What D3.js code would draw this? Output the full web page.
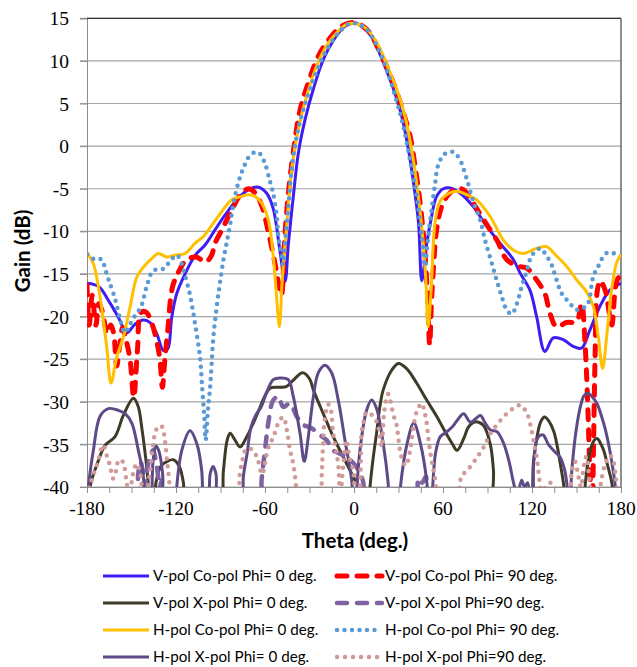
<!DOCTYPE html>
<html>
<head>
<meta charset="utf-8">
<title>Gain vs Theta</title>
<script src="https://d3js.org/d3.v7.min.js"></script>
<style>
  body { margin: 0; background: #fff; }
  .tick-lbl { font-family: "Liberation Serif", "Times New Roman", serif; font-size: 19.5px; fill: #000; }
  .ax-title { font-family: Lato, "Liberation Sans", sans-serif; font-weight: bold; font-size: 20.5px; fill: #000; }
  .leg { font-family: Lato, "Liberation Sans", sans-serif; font-size: 15.2px; fill: #000; }
</style>
</head>
<body>
<svg id="chart" width="637" height="667"></svg>
<script>
// ---- data (theta deg, gain dB); values < -40 are off the chart
var vCo0 = [[-180,-16.1],[-172,-16.5],[-165.6,-18.1],[-158.8,-20.1],[-153.2,-21.9],[-147.6,-20.9],[-142,-20.4],[-137.5,-20.7],[-133,-22],[-128.5,-24],[-125.6,-23.8],[-122.9,-20.1],[-119.5,-17.3],[-113.9,-15],[-107,-12.8],[-100.4,-11.6],[-93.6,-9.8],[-87,-8.1],[-78,-6.1],[-71,-5.1],[-65,-4.8],[-59,-5.5],[-54.5,-7.3],[-50,-12.2],[-46.5,-15.9],[-44.2,-11.4],[-40.9,-5.9],[-37.5,-0.8],[-33,3.1],[-27.4,6.7],[-20.6,10.2],[-13.9,12.4],[-7.2,13.9],[0,14.5],[6.3,13.9],[13.1,12.5],[19.8,9.8],[26.6,6.7],[32.2,3.5],[36.7,-0.4],[40.1,-4.3],[43.5,-9],[45.7,-15.8],[49,-11.5],[51.5,-9],[55.7,-5.9],[60.2,-5],[64.7,-4.9],[71.4,-5.5],[80.4,-7.1],[89.4,-9.4],[98.4,-11.4],[107.4,-13.3],[112,-14.9],[118.6,-16.9],[123.1,-20],[128.7,-24.1],[134.3,-22.5],[141,-22.7],[147.8,-23.5],[153.4,-23.7],[159,-21.6],[165.8,-18.8],[172.5,-16.9],[180,-16.1]];

var vCo90 = [[-180,-16.3],[-178.5,-21],[-176.5,-17.5],[-174,-21],[-172,-18.5],[-169.5,-19.5],[-166.5,-22],[-164,-21],[-162,-22],[-160,-25.8],[-158,-23.5],[-156,-21.3],[-154,-22.5],[-151,-25],[-148.5,-29.5],[-146,-24],[-143.5,-19.5],[-140,-19.5],[-137,-20.5],[-134.5,-21.8],[-131,-24.8],[-129.2,-28.3],[-127.5,-25],[-125.5,-21.5],[-122.3,-16.5],[-117.8,-14.6],[-113.3,-13.4],[-106.5,-13],[-100,-13.6],[-96,-12.8],[-93.7,-11.4],[-89,-9.8],[-82.4,-7.5],[-75.7,-5.5],[-71,-5],[-66.6,-5.5],[-62,-7.1],[-57.6,-10.2],[-53,-14],[-49,-17.5],[-46.8,-11],[-44.5,-6],[-41,-0.8],[-36.3,4.3],[-30.7,7.5],[-23.9,10.6],[-16.1,12.7],[-8.2,14.1],[0,14.5],[8.6,13.7],[17.6,11],[26.6,7.4],[33.3,3.9],[37.8,1.2],[41.2,-2.4],[44.6,-6.7],[47.3,-11.4],[49.5,-17.3],[51,-23.3],[52.3,-18],[53.5,-14.5],[55.7,-9.8],[59.1,-7.1],[63.6,-5.7],[69.2,-5],[73.7,-5.1],[80.4,-6.7],[87.2,-8.6],[96.2,-11],[102.9,-13.3],[110.8,-14.1],[116.4,-14.3],[123.1,-15.7],[128.7,-17.3],[132.1,-19.6],[136.6,-21.2],[143.3,-20.7],[150,-20.6],[153.4,-18.5],[155.7,-23],[157.5,-30],[159,-38],[160.5,-43],[161.5,-35],[162.5,-25],[164,-17],[166,-15.8],[169.5,-17],[172,-19.5],[173.8,-21],[176,-17],[178,-15.5],[180,-15.3]];

var vX0 = [[-180,-45],[-178,-40],[-172.3,-36.9],[-167.8,-35.1],[-161.1,-34.1],[-155.5,-31.6],[-148.7,-29.6],[-145.4,-30.6],[-143.1,-33],[-140.5,-36.5],[-138.5,-40],[-137,-45],[-135,-45],[-133.5,-39.5],[-130,-37.5],[-126,-37],[-121.8,-36.8],[-118,-37.5],[-115,-39.5],[-113,-45],[-92,-45],[-88,-38],[-85.5,-34.5],[-83.5,-33.7],[-80.2,-34.5],[-76.8,-35.3],[-72.3,-34.1],[-67.9,-32.5],[-63,-30.5],[-60,-29.3],[-56.6,-28.4],[-50,-28.3],[-45.4,-28.2],[-40,-27.3],[-34.6,-26.6],[-30,-27.3],[-27.4,-28.6],[-20.7,-31.4],[-14,-34.1],[-7.2,-36.5],[-0.5,-38.8],[4,-40.5],[7,-45],[9,-45],[10.8,-40],[13,-36.5],[15.2,-33.7],[17.5,-30.5],[19.7,-28.6],[25.4,-26.3],[29.9,-25.5],[35.5,-26.1],[42.2,-27.8],[49,-29.8],[55.7,-31.7],[62.7,-33.9],[66.5,-35],[69.5,-35.7],[74,-34.3],[77,-33],[80.7,-32.4],[84,-32.4],[87.4,-32.8],[91.9,-35],[94,-38],[96,-45],[117,-45],[121,-37],[123.4,-34.1],[126,-32.3],[128.5,-31.8],[131.5,-32.3],[134.7,-33.5],[137,-35.2],[139.1,-37.3],[141.5,-40],[143,-45],[154,-45],[156,-39.5],[159.3,-35.7],[162,-34.5],[164,-34.3],[166,-34.8],[168.3,-35.7],[171,-37.5],[173.9,-39.6],[176,-45],[180,-45]];

var vX90 = [[-180,-45],[-148,-45],[-145.5,-38.5],[-144,-37],[-142.5,-38],[-141,-40],[-139.5,-38],[-137.5,-36.5],[-135.5,-35.7],[-133.5,-37],[-132,-38.8],[-131,-40],[-129.5,-39.2],[-128,-45],[-64,-45],[-62.3,-39.2],[-60,-35.7],[-57.8,-32.5],[-54.4,-29.8],[-51,-29.4],[-47.7,-30.6],[-43.2,-30.2],[-38.7,-31.7],[-34.2,-32.7],[-28.6,-33.1],[-23,-33.9],[-18.5,-34.5],[-14,-35.7],[-9.5,-36.1],[-5,-36.5],[0.6,-37.4],[4,-38.4],[6.3,-39.5],[8,-45],[40,-45],[43.5,-39],[46,-39.5],[48.5,-38.8],[51,-45],[180,-45]];

var hCo0 = [[-180,-12.5],[-175.7,-13.8],[-171.2,-17.7],[-166.7,-23.6],[-163.8,-27.8],[-160,-24.8],[-155.5,-22.4],[-151,-18.9],[-146.5,-15.4],[-142,-14.2],[-136.4,-13.2],[-131.9,-12.6],[-126.3,-13],[-120.7,-12.8],[-113.9,-12.6],[-107.2,-11.4],[-101.5,-10.6],[-95.9,-9.3],[-89.2,-7.7],[-82.4,-6.3],[-75.7,-5.9],[-71.2,-5.7],[-66.7,-5.9],[-62.2,-6.7],[-57.7,-8.7],[-54.4,-13],[-52.5,-17],[-50.3,-21.2],[-48.5,-16],[-47,-12.5],[-45.4,-9.4],[-42,-2.7],[-37.5,2],[-31.9,5.9],[-25.2,9.4],[-18.4,11.8],[-11.7,13.3],[-5,14.3],[0.7,14.4],[7.4,13.9],[15.3,12.2],[22,9.6],[28.7,6.7],[34.4,3.5],[38.9,-0.4],[42.2,-4.3],[45.6,-9.4],[48.3,-15.3],[50,-21.2],[52,-16.9],[54.6,-9],[57.9,-6.5],[62.4,-5.7],[69.2,-5.3],[75.9,-5.7],[82.7,-6.3],[91.6,-8.2],[100.6,-11],[107.4,-12.2],[114.1,-12.6],[123.1,-12],[129.8,-11.8],[136.6,-12.9],[143.3,-14.1],[150.1,-15.7],[156.8,-17.1],[161.3,-18.8],[164.7,-22.4],[167.6,-26.1],[170.3,-22.4],[173.6,-16.9],[177,-13.7],[180,-12.7]];

var hCo90 = [[-180,-12.7],[-174.6,-13.3],[-170.1,-13.3],[-167.8,-14.4],[-165.6,-15.6],[-161.1,-17.9],[-157.7,-20.3],[-154.4,-21.9],[-151,-20.9],[-147.6,-19.9],[-143.5,-18.8],[-139.8,-16.5],[-135.3,-14.6],[-128.5,-14.4],[-124,-13.5],[-119.5,-12.8],[-116.2,-13.8],[-113.9,-15.2],[-110.5,-17.5],[-107.1,-20.9],[-103.8,-24.8],[-102.3,-28.5],[-101,-31.5],[-100,-34.5],[-98.5,-31],[-97.1,-28.5],[-96,-25.6],[-94.8,-22.4],[-92.6,-18.9],[-90.4,-16.1],[-88.1,-13.4],[-85.9,-11.4],[-83.6,-9.3],[-81.4,-6.9],[-78,-4.3],[-74.6,-2.6],[-70.2,-1.1],[-66,-0.7],[-63.4,-0.9],[-60.1,-2],[-56.7,-4.1],[-54.4,-5.6],[-52.1,-8.2],[-51,-10.6],[-48.7,-12.9],[-47.6,-13.9],[-46.5,-11.4],[-44.2,-7.1],[-42,-2.7],[-38.6,1.2],[-34.1,4.3],[-27.4,7.8],[-20.6,10.6],[-13.9,12.5],[-8.2,13.7],[-2.6,14.4],[3,14.3],[8.6,13.7],[15.3,11.8],[22,9],[27.7,5.9],[32.2,3.1],[35.6,0.4],[38.9,-2.7],[42.3,-5.9],[45.6,-10.6],[47.9,-14.1],[49.5,-11.5],[52.3,-7.5],[54.6,-4.5],[56.8,-2.2],[61.3,-0.9],[66.9,-0.7],[71.4,-1.6],[75.9,-3.8],[80.4,-6.5],[84.9,-8.6],[88.3,-11],[92.8,-13.7],[96.1,-15.7],[99.5,-17.6],[102.9,-19.2],[106.3,-19.7],[109.6,-18.6],[113,-16.5],[116.4,-14.7],[119.7,-12.9],[125.4,-12],[129.8,-12.9],[133.2,-13.9],[135.5,-15.1],[140,-17.3],[144.4,-18.2],[150.1,-19.2],[154.6,-19],[157.9,-18.4],[161.3,-15.3],[164.7,-14.1],[166.9,-13.3],[170.8,-12.5],[175.9,-12.6],[180,-12.7]];

var hX0 = [[-180,-45],[-179,-40],[-175.7,-35.7],[-171.2,-31.7],[-165.6,-30.8],[-158.8,-31],[-154.3,-31.4],[-149.8,-32.5],[-145.4,-35.7],[-142,-38.8],[-140,-45],[-138,-45],[-135.5,-37],[-133.5,-35.2],[-131.5,-35.8],[-129,-38.5],[-127.5,-45],[-121,-45],[-119.5,-40],[-116.1,-35.7],[-110.5,-33.4],[-106,-34.9],[-102.7,-38],[-100.4,-45],[-98.5,-45],[-97,-38.5],[-95,-37.6],[-93,-38.5],[-91,-45],[-76.5,-45],[-74.6,-38.8],[-72,-36],[-69.5,-33],[-66,-31.5],[-62.5,-30.6],[-58.9,-28.9],[-54.4,-27.4],[-49.9,-27.2],[-44.3,-27.4],[-40.9,-29.4],[-36.4,-33.7],[-33.5,-37],[-30.8,-34.1],[-27.4,-29.4],[-24.1,-26.6],[-19.6,-25.7],[-15.1,-26.6],[-10.6,-29.8],[-6.1,-34.5],[-1.6,-39.2],[0.5,-45],[2,-40],[4,-35.7],[8.5,-31],[11.9,-29.8],[15.2,-30.8],[19.7,-34.9],[23,-39.5],[25,-45],[29.5,-45],[31.3,-40],[35.8,-34.9],[40.3,-32.5],[44.8,-34.9],[49.2,-39.6],[51,-45],[53,-40],[55,-36],[58.2,-34.1],[62.7,-33.5],[66,-33],[69.5,-32.2],[73.9,-31.4],[78.5,-32.4],[82,-32],[85.2,-31.6],[88.5,-32.5],[91.9,-33.3],[96.4,-33.5],[100.9,-34.9],[104.5,-37],[107.7,-39.6],[110,-41],[113,-39.2],[115,-40],[117,-39.5],[119,-45],[121.5,-36.5],[124,-34.2],[127.5,-33.9],[131,-35],[135,-35.8],[139,-36.5],[142,-38],[144,-40.5],[145.5,-45],[146.5,-39],[148.1,-35.7],[150.5,-32.5],[152.6,-30.6],[155,-29.3],[157.5,-29],[160.5,-29.4],[163.8,-30.2],[166.5,-31.5],[169.5,-33.3],[172,-35.3],[174,-37.3],[176.2,-40],[177.5,-45],[180,-45]];

var hX90 = [[-180,-41],[-178,-39.8],[-174.6,-38],[-172.3,-36.9],[-170.5,-35.5],[-169,-35.1],[-166.7,-36.3],[-164.5,-37.5],[-162.5,-39],[-161,-38.5],[-159,-37],[-157,-36.8],[-155,-37.5],[-153.5,-39.2],[-152,-40.5],[-150,-39.5],[-148.7,-38.2],[-146.5,-37.3],[-144.5,-38],[-143,-40],[-141,-42],[-139,-40],[-137,-37.5],[-134.5,-34],[-132,-32.9],[-129.5,-32.9],[-127.5,-34.5],[-126,-37],[-124.5,-39.5],[-123,-44],[-81,-44],[-77,-38.5],[-74.7,-36.5],[-72.5,-35.5],[-68,-35.7],[-64.7,-36.9],[-62,-38.5],[-58,-35.5],[-54.3,-34.1],[-50.5,-32.3],[-47.6,-31.8],[-45.3,-33.3],[-43.1,-35.7],[-40.9,-37.3],[-39,-40],[-37,-44],[-23.5,-44],[-21.8,-38.8],[-21,-35.5],[-20,-32.5],[-18.5,-30.8],[-17.3,-30.3],[-15.5,-31],[-14.2,-33.5],[-12.9,-34.9],[-10.6,-37.4],[-9.3,-41],[-7,-37],[-5,-34.5],[-3.9,-35.7],[-2.7,-36.8],[-0.5,-38],[1,-40.5],[3,-41],[5.1,-33.7],[6.3,-32.5],[8.5,-31.2],[10.7,-31.4],[13,-31.7],[15.2,-32.3],[17.5,-33.9],[18.6,-35.3],[20.5,-31],[23,-29.1],[26.5,-31.5],[28.7,-32.7],[29.9,-34.3],[31,-35.7],[33,-37],[35,-37.5],[37.5,-36],[40,-33],[42.2,-31.2],[45.6,-30.2],[47.8,-31.4],[49,-32.5],[50.1,-34.3],[51.2,-35.7],[53,-37.5],[55,-39.5],[57,-44],[69,-44],[71.7,-39.2],[75,-38.2],[78.5,-37.6],[83,-36.5],[87.5,-35.3],[92,-33.7],[98.7,-32.2],[105.4,-31],[109,-30.6],[112.2,-30.4],[116.7,-31.4],[119.5,-33.2],[121.5,-35],[123.4,-36.8],[125,-39.2],[126.5,-41],[129,-40],[133,-39.5],[136,-40.5],[139,-44],[145,-41],[147,-38],[149,-37],[151,-38.5],[153,-40],[155,-37.5],[156.7,-36.4],[158,-38],[160,-41],[163,-44],[166,-40],[169,-37.5],[172.6,-36.3],[174.9,-37],[176.5,-39],[178,-40.5],[180,-41]];

var xTicks = [-180, -120, -60, 0, 60, 120, 180];
var yTicks = [15, 10, 5, 0, -5, -10, -15, -20, -25, -30, -35, -40];

var series = [
  {name: "V-pol Co-pol Phi= 0 deg.",  data: vCo0,  color: "#3F1CF2", width: 3,   dash: null,    cap: "butt"},
  {name: "V-pol Co-pol Phi= 90 deg.", data: vCo90, color: "#FF0000", width: 5,   dash: "10,10", cap: "round"},
  {name: "V-pol X-pol Phi= 0 deg.",   data: vX0,   color: "#403B28", width: 3,   dash: null,    cap: "butt"},
  {name: "V-pol X-pol Phi=90 deg.",   data: vX90,  color: "#7F63A1", width: 4.5, dash: "10,10", cap: "round"},
  {name: "H-pol Co-pol Phi= 0 deg.",  data: hCo0,  color: "#FFC000", width: 3,   dash: null,    cap: "butt"},
  {name: "H-pol Co-pol Phi= 90 deg.", data: hCo90, color: "#5B9BD5", width: 4.5, dash: "0,7.5", cap: "round"},
  {name: "H-pol X-pol Phi= 0 deg.",   data: hX0,   color: "#5E4A86", width: 3,   dash: null,    cap: "butt"},
  {name: "H-pol X-pol Phi=90 deg.",   data: hX90,  color: "#D09A98", width: 4.5, dash: "0,8",   cap: "round"}
];

var svg = d3.select("#chart");
var pLeft = 87, pRight = 621, pTop = 18.3, pBottom = 487;

var x = d3.scaleLinear().domain([-180, 180]).range([pLeft, pRight]);
var y = d3.scaleLinear().domain([-40, 15]).range([pBottom, pTop]);

svg.append("rect").attr("width", 637).attr("height", 667).attr("fill", "#fff");

// gridlines
svg.append("g").selectAll("line").data(yTicks).enter().append("line")
    .attr("x1", pLeft - 7).attr("x2", pRight)
    .attr("y1", function(d) { return y(d); }).attr("y2", function(d) { return y(d); })
    .attr("stroke", "#A5A5A5").attr("stroke-width", 1.2);

// y axis
var yAxis = svg.append("g").attr("transform", "translate(" + pLeft + ",0)")
    .call(d3.axisLeft(y).tickValues(yTicks).tickSize(7).tickFormat(d3.format("d")));
yAxis.select(".domain").attr("stroke", "#8C8C8C");
yAxis.selectAll(".tick line").attr("stroke", "#8C8C8C");
yAxis.selectAll(".tick text").attr("class", "tick-lbl").attr("x", -18).attr("dy", "0.34em")
    .text(function(d) { return String(d); });

// x axis
var xAxis = svg.append("g").attr("transform", "translate(0," + pBottom + ")")
    .call(d3.axisBottom(x).tickValues(d3.range(-180, 181, 15)).tickSize(6).tickFormat(""));
xAxis.select(".domain").attr("stroke", "#8C8C8C");
xAxis.selectAll(".tick line").attr("stroke", "#8C8C8C");
svg.append("g").selectAll("text").data(xTicks).enter().append("text")
    .attr("class", "tick-lbl").attr("text-anchor", "middle")
    .attr("x", function(d) { return x(d); }).attr("y", pBottom + 28)
    .text(function(d) { return d; });

// top and right border
svg.append("line").attr("x1", pLeft).attr("x2", pRight).attr("y1", pTop).attr("y2", pTop)
    .attr("stroke", "#333").attr("stroke-width", 1.2);
svg.append("line").attr("x1", pRight).attr("x2", pRight).attr("y1", pTop).attr("y2", pBottom)
    .attr("stroke", "#444").attr("stroke-width", 1.2);

// clip
svg.append("clipPath").attr("id", "plotclip").append("rect")
    .attr("x", pLeft).attr("y", pTop - 6).attr("width", pRight - pLeft).attr("height", pBottom - pTop + 6);

var line = d3.line()
    .x(function(d) { return x(d[0]); })
    .y(function(d) { return y(d[1]); })
    .curve(d3.curveCatmullRom.alpha(0.5));

svg.append("g").attr("clip-path", "url(#plotclip)")
  .selectAll("path").data(series).enter().append("path")
    .attr("d", function(s) { return line(s.data); })
    .attr("fill", "none")
    .attr("stroke", function(s) { return s.color; })
    .attr("stroke-width", function(s) { return s.width; })
    .attr("stroke-dasharray", function(s) { return s.dash; })
    .attr("stroke-linecap", function(s) { return s.cap; })
    .attr("stroke-linejoin", "round");

// axis titles
svg.append("text").attr("class", "ax-title").attr("text-anchor", "middle")
    .attr("x", 355).attr("y", 548).text("Theta (deg.)");
svg.append("text").attr("class", "ax-title").attr("text-anchor", "middle")
    .attr("transform", "translate(30,251) rotate(-90)").text("Gain (dB)");

// legend
var legRows = [576, 603, 630, 657];
var leg = svg.append("g").selectAll("g").data(series).enter().append("g")
    .attr("transform", function(s, i) {
      var col = i % 2, row = Math.floor(i / 2);
      return "translate(" + (col ? 335 : 103) + "," + legRows[row] + ")";
    });
leg.append("line")
    .attr("x1", function(s) { return s.cap === "round" ? 2 : 0; })
    .attr("x2", function(s) { return s.cap === "round" ? 47 : 46; })
    .attr("stroke", function(s) { return s.color; })
    .attr("stroke-width", function(s) { return s.width; })
    .attr("stroke-dasharray", function(s) { return s.dash; })
    .attr("stroke-linecap", function(s) { return s.cap; });
leg.append("text").attr("class", "leg")
    .attr("x", 50).attr("dy", "0.35em")
    .text(function(s) { return s.name; });
</script>
</body>
</html>
